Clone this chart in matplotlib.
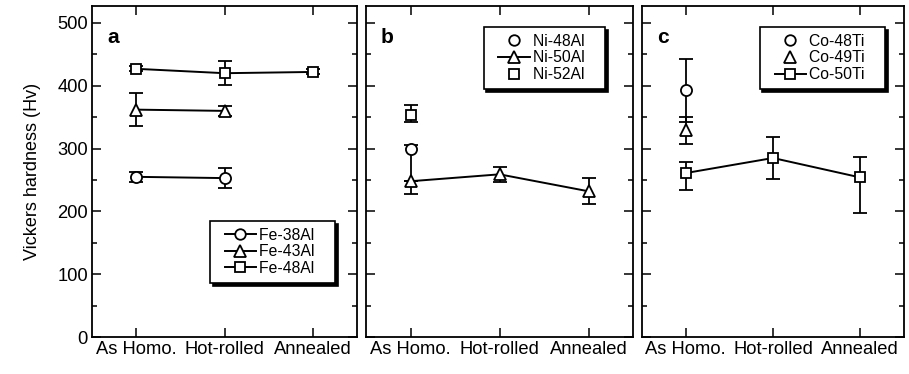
import numpy as np
import matplotlib
matplotlib.use("Agg")
import matplotlib.pyplot as plt
from matplotlib.lines import Line2D
from matplotlib.legend_handler import HandlerLine2D
from matplotlib.ticker import MultipleLocator

plt.rcParams['font.family'] = ['Liberation Sans', 'DejaVu Sans']

categories = ['As Homo.', 'Hot-rolled', 'Annealed']

# Fe-Al alloys
fe38_hv = [255, 253]
fe38_err = [8, 16]
fe43_hv = [362, 360]
fe43_err = [26, 8]
fe48_hv = [427, 420, 422]
fe48_err = [4, 19, 4]

# Ni-Al alloys (lower / upper error)
ni48_hv = [300]
ni48_lo, ni48_hi = [52], [6]
ni50_hv = [248, 259, 232]
ni50_lo, ni50_hi = [20, 12, 21], [0, 12, 21]
ni52_hv = [353]
ni52_lo, ni52_hi = [11], [16]

# Co-Ti alloys (lower / upper error)
co48_hv = [393]
co48_lo, co48_hi = [50], [50]
co49_hv = [330]
co49_lo, co49_hi = [22], [20]
co50_hv = [261, 285, 254]
co50_lo, co50_hi = [27, 34, 56], [18, 34, 32]

panels = [
    ('a', [('Fe-38Al', 'o', fe38_hv, fe38_err, fe38_err, True),
           ('Fe-43Al', '^', fe43_hv, fe43_err, fe43_err, True),
           ('Fe-48Al', 's', fe48_hv, fe48_err, fe48_err, True)],
     dict(loc='lower right', bbox_to_anchor=(0.917, 0.163))),
    ('b', [('Ni-48Al', 'o', ni48_hv, ni48_lo, ni48_hi, False),
           ('Ni-50Al', '^', ni50_hv, ni50_lo, ni50_hi, True),
           ('Ni-52Al', 's', ni52_hv, ni52_lo, ni52_hi, False)],
     dict(loc='upper right', bbox_to_anchor=(0.895, 0.937))),
    ('c', [('Co-48Ti', 'o', co48_hv, co48_lo, co48_hi, False),
           ('Co-49Ti', '^', co49_hv, co49_lo, co49_hi, False),
           ('Co-50Ti', 's', co50_hv, co50_lo, co50_hi, True)],
     dict(loc='upper right', bbox_to_anchor=(0.927, 0.937))),
]
marker_size = {'o': 8, '^': 9.2, 's': 7.5}

fig = plt.figure(figsize=(9.09, 3.74), dpi=100)
W, H = 909, 374
boxes = [(92, 357), (366, 633), (642, 904)]
top_px, bot_px = 6, 337

for i, ((letter, series, legkw), (x0, x1)) in enumerate(zip(panels, boxes)):
    ax = fig.add_axes([x0 / W, (H - bot_px) / H, (x1 - x0) / W, (bot_px - top_px) / H])
    for name, mk, hv, lo, hi, joined in series:
        x = np.arange(len(hv))
        ax.errorbar(x, hv, yerr=[lo, hi], fmt='none', ecolor='k', elinewidth=1.3,
                    capsize=5, capthick=1.3, zorder=2)
        ax.plot(x, hv, linestyle='-' if joined else 'none', color='k', lw=1.4,
                marker=mk, markersize=marker_size[mk], markerfacecolor='white',
                markeredgecolor='k', markeredgewidth=1.3, label=name + '   ', zorder=3)

    ax.set_xlim(-0.5, 2.5)
    ax.set_ylim(0, 527)
    ax.set_xticks(range(len(categories)))
    ax.set_xticklabels(categories, fontsize=13.2)
    ax.yaxis.set_major_locator(MultipleLocator(100))
    ax.yaxis.set_minor_locator(MultipleLocator(50))
    ax.tick_params(which='both', direction='in', top=True, right=True, width=1.1,
                   labelleft=(i == 0), labelsize=13.2, pad=3)
    ax.tick_params(which='major', length=6.5)
    ax.tick_params(which='minor', length=3.6)
    ax.tick_params(axis='x', which='minor', top=False, bottom=False)
    for sp in ax.spines.values():
        sp.set_linewidth(1.3)

    ax.text(0.08, 0.905, letter, transform=ax.transAxes, fontsize=15,
            fontweight='bold', ha='center', va='center')

    leg = ax.legend(fontsize=11.3, frameon=True, fancybox=False, framealpha=1,
                    edgecolor='k', borderaxespad=0, borderpad=0.45, labelspacing=0.1,
                    handlelength=2.5, handletextpad=0.2, markerscale=0.95,
                    handler_map={Line2D: HandlerLine2D(xpad=0.5)},
                    shadow={'shade': 1.0, 'alpha': 1}, **legkw)
    leg.get_frame().set_linewidth(1.2)

    if i == 0:
        ax.set_ylabel('Vickers hardness (Hv)', fontsize=13, labelpad=12)

fig.savefig('out.png', dpi=100)
